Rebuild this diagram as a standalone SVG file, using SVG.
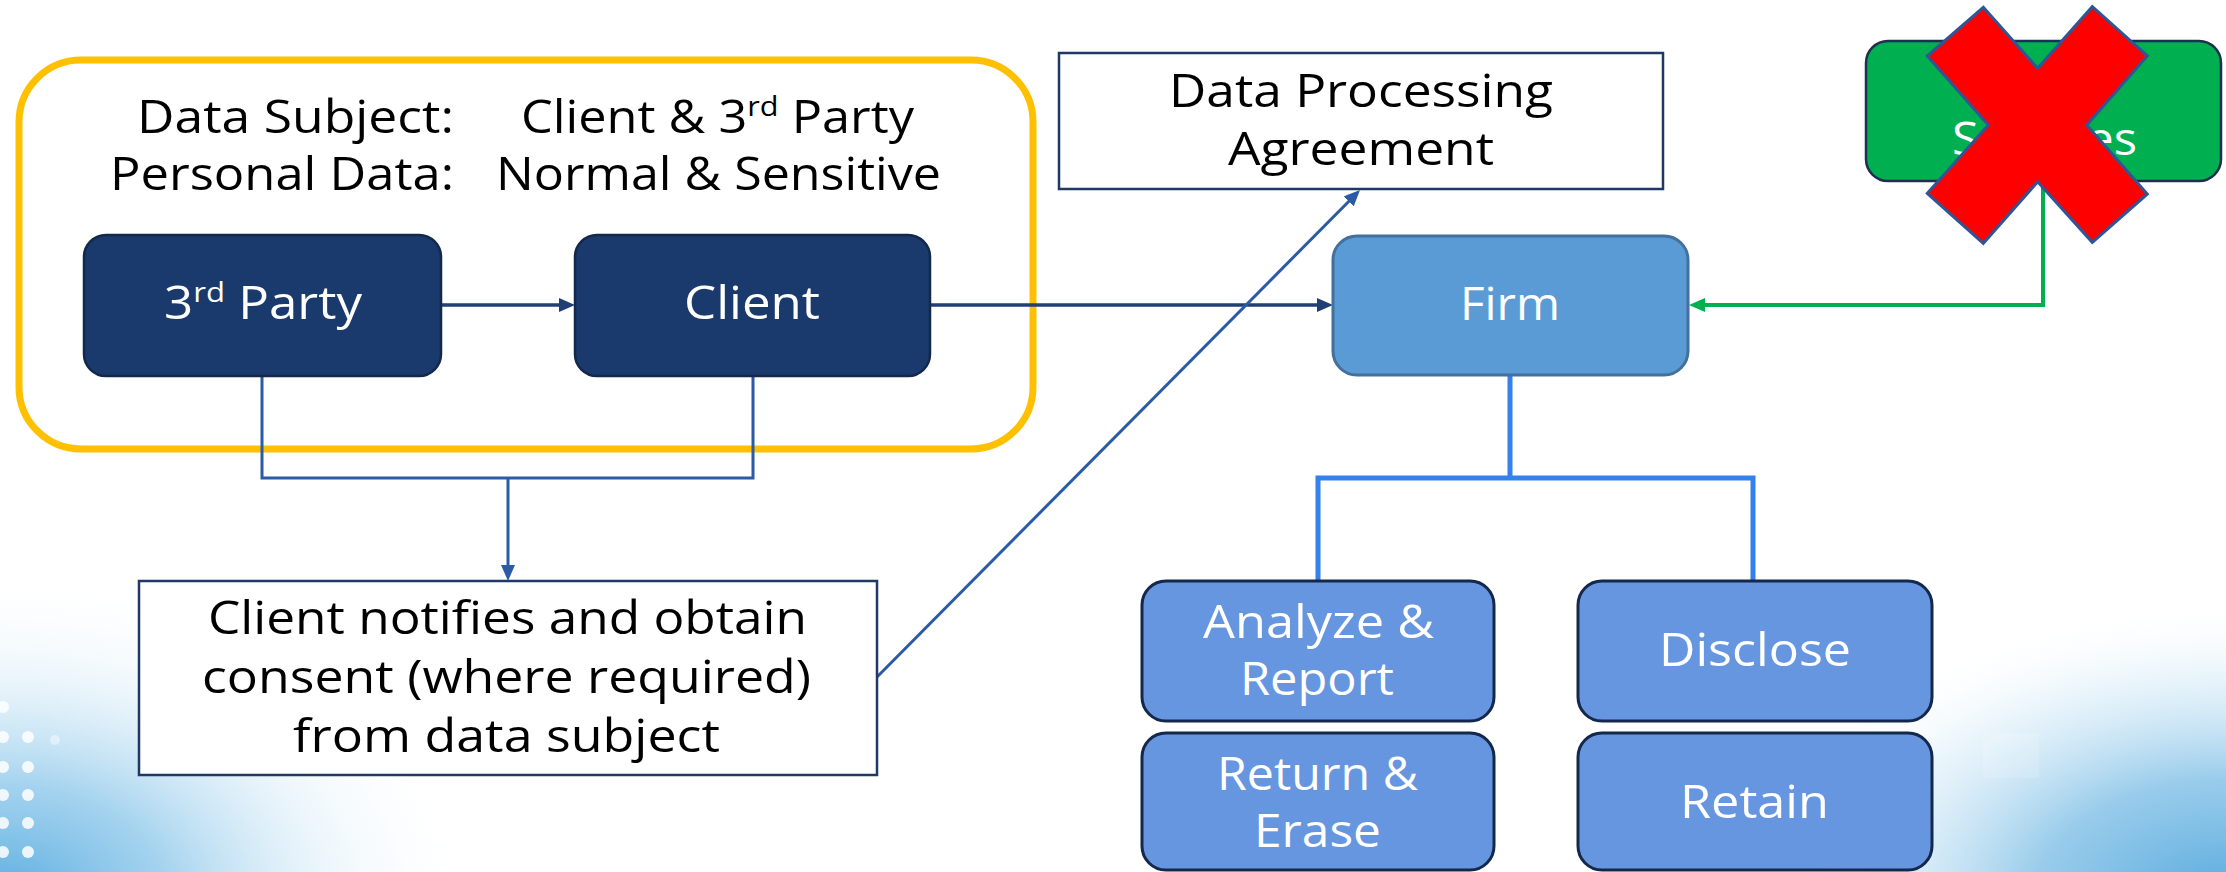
<svg xmlns="http://www.w3.org/2000/svg" width="2226" height="872" viewBox="0 0 2226 872">
<style>
.t{font-family:"Open Sans","Liberation Sans",sans-serif;font-size:46px;fill:#000}
.w{font-family:"Open Sans","Liberation Sans",sans-serif;font-size:46px;fill:#fff}
.navy{fill:#1A3A6D;stroke:#13284A;stroke-width:2.5}
.child{fill:#6696E0;stroke:#14284B;stroke-width:3}
.plain{fill:#fff;stroke:#1F3864;stroke-width:2.5}
.c-dark{fill:none;stroke:#1F3F75;stroke-width:3.5}
.c-mid{fill:none;stroke:#2B5BA6;stroke-width:3}
.c-bright{fill:none;stroke:#3380EE;stroke-width:5}
.c-green{fill:none;stroke:#00B050;stroke-width:4}
</style>
<defs>
<marker id="ah-dark" markerUnits="userSpaceOnUse" markerWidth="16" markerHeight="14" refX="8" refY="7" orient="auto"><path d="M0,0 L16,7 L0,14 z" fill="#1F3F75"/></marker>
<marker id="ah-mid" markerUnits="userSpaceOnUse" markerWidth="16" markerHeight="14" refX="8" refY="7" orient="auto"><path d="M0,0 L16,7 L0,14 z" fill="#2B5BA6"/></marker>
<marker id="ah-green" markerUnits="userSpaceOnUse" markerWidth="16" markerHeight="14" refX="8" refY="7" orient="auto"><path d="M0,0 L16,7 L0,14 z" fill="#00B050"/></marker>
<radialGradient id="bgL" gradientUnits="userSpaceOnUse" cx="0" cy="900" r="330" gradientTransform="translate(0,900) scale(1.45,1) translate(0,-900)">
<stop offset="0" stop-color="#4FA8DE" stop-opacity="0.95"/>
<stop offset="0.35" stop-color="#86C4E9" stop-opacity="0.75"/>
<stop offset="0.7" stop-color="#CFE8F6" stop-opacity="0.35"/>
<stop offset="1" stop-color="#FFFFFF" stop-opacity="0"/>
</radialGradient>
<radialGradient id="bgR" gradientUnits="userSpaceOnUse" cx="2226" cy="900" r="300" gradientTransform="translate(2226,900) scale(1.6,1) translate(-2226,-900)">
<stop offset="0" stop-color="#4FA6DC" stop-opacity="0.95"/>
<stop offset="0.4" stop-color="#7FBFE6" stop-opacity="0.8"/>
<stop offset="0.75" stop-color="#C8E5F5" stop-opacity="0.4"/>
<stop offset="1" stop-color="#FFFFFF" stop-opacity="0"/>
</radialGradient>
</defs>

<g id="background">
<rect x="0" y="0" width="2226" height="872" fill="#fff"/>
<rect x="0" y="500" width="560" height="372" fill="url(#bgL)"/>
<rect x="1650" y="560" width="576" height="312" fill="url(#bgR)"/>
<g fill="#fff" opacity="0.85">
<circle cx="3" cy="707" r="6"/><circle cx="3" cy="737" r="6"/><circle cx="3" cy="767" r="6"/><circle cx="3" cy="795" r="6"/><circle cx="3" cy="823" r="6"/><circle cx="3" cy="852" r="6"/>
<circle cx="28" cy="737" r="6"/><circle cx="28" cy="767" r="6"/><circle cx="28" cy="795" r="6"/><circle cx="28" cy="823" r="6"/><circle cx="28" cy="852" r="6"/>
<circle cx="55" cy="740" r="5" opacity="0.5"/>
</g>
<rect x="1983" y="733" width="56" height="45" fill="#fff" opacity="0.15"/>
</g>

<g id="data-subject-group">
<rect x="19" y="60" width="1014" height="389" rx="62" fill="none" stroke="#FFC000" stroke-width="7"/>
<text class="t" x="137" y="133" textLength="317" lengthAdjust="spacingAndGlyphs">Data Subject:</text>
<text class="t" x="521" y="133" textLength="393" lengthAdjust="spacingAndGlyphs">Client &amp; 3<tspan font-size="28" dy="-17">rd</tspan><tspan dy="17"> Party</tspan></text>
<text class="t" x="110" y="190" textLength="344" lengthAdjust="spacingAndGlyphs">Personal Data:</text>
<text class="t" x="496" y="190" textLength="445" lengthAdjust="spacingAndGlyphs">Normal &amp; Sensitive</text>
</g>

<g id="connectors">
<path class="c-dark" d="M441,305 H567" marker-end="url(#ah-dark)"/>
<path class="c-dark" d="M930,305 H1325" marker-end="url(#ah-dark)"/>
<path class="c-mid" d="M262,376 V478 H753 V376"/>
<path class="c-mid" d="M508,478 V573" marker-end="url(#ah-mid)"/>
<path class="c-mid" d="M877,677 L1354.4,195.7" marker-end="url(#ah-mid)"/>
<path class="c-bright" d="M1510,375 V478"/>
<path class="c-bright" d="M1318,581 V478 H1753 V581"/>
<path class="c-green" d="M2043,181 V305 H1697" marker-end="url(#ah-green)"/>
</g>

<g id="third-party">
<rect class="navy" x="84" y="235" width="357" height="141" rx="22"/>
<text class="w" x="164" y="319" textLength="198" lengthAdjust="spacingAndGlyphs">3<tspan font-size="28" dy="-17">rd</tspan><tspan dy="17"> Party</tspan></text>
</g>

<g id="client">
<rect class="navy" x="575" y="235" width="355" height="141" rx="22"/>
<text class="w" x="684" y="319" textLength="136" lengthAdjust="spacingAndGlyphs">Client</text>
</g>

<g id="dpa">
<rect class="plain" x="1059" y="53" width="604" height="136"/>
<text class="t" x="1169" y="107" textLength="384" lengthAdjust="spacingAndGlyphs">Data Processing</text>
<text class="t" x="1228" y="165" textLength="266" lengthAdjust="spacingAndGlyphs">Agreement</text>
</g>

<g id="firm">
<rect x="1333" y="236" width="355" height="139" rx="24" fill="#5B9BD5" stroke="#41719C" stroke-width="3"/>
<text class="w" x="1460" y="320" textLength="100" lengthAdjust="spacingAndGlyphs">Firm</text>
</g>

<g id="consent">
<rect class="plain" x="139" y="581" width="738" height="194"/>
<text class="t" x="208" y="634" textLength="599" lengthAdjust="spacingAndGlyphs">Client notifies and obtain</text>
<text class="t" x="202" y="693" textLength="609" lengthAdjust="spacingAndGlyphs">consent (where required)</text>
<text class="t" x="293" y="752" textLength="427" lengthAdjust="spacingAndGlyphs">from data subject</text>
</g>

<g id="analyze-report">
<rect class="child" x="1142" y="581" width="352" height="140" rx="24"/>
<text class="w" x="1203" y="638" textLength="231" lengthAdjust="spacingAndGlyphs">Analyze &amp;</text>
<text class="w" x="1240" y="695" textLength="154" lengthAdjust="spacingAndGlyphs">Report</text>
</g>

<g id="disclose">
<rect class="child" x="1578" y="581" width="354" height="140" rx="24"/>
<text class="w" x="1659" y="666" textLength="192" lengthAdjust="spacingAndGlyphs">Disclose</text>
</g>

<g id="return-erase">
<rect class="child" x="1142" y="733" width="352" height="137" rx="24"/>
<text class="w" x="1217" y="790" textLength="201" lengthAdjust="spacingAndGlyphs">Return &amp;</text>
<text class="w" x="1254" y="847" textLength="127" lengthAdjust="spacingAndGlyphs">Erase</text>
</g>

<g id="retain">
<rect class="child" x="1578" y="733" width="354" height="137" rx="24"/>
<text class="w" x="1680" y="818" textLength="149" lengthAdjust="spacingAndGlyphs">Retain</text>
</g>

<g id="services">
<rect x="1866" y="41" width="355" height="140" rx="22" fill="#00B050" stroke="#1F2F50" stroke-width="2.5"/>
<text class="w" x="1952" y="155" textLength="185" lengthAdjust="spacingAndGlyphs">Services</text>
</g>

<g id="cross">
<polygon points="1983.3,7.3 2037.7,68.3 2092.3,6.7 2147.3,56 2086.7,125 2147.3,194 2092.3,242.3 2037.7,181.7 1983.3,243.3 1927.3,193.3 1988.3,125 1927.3,56" fill="#FF0000" stroke="#2F5597" stroke-width="3" stroke-linejoin="miter"/>
</g>
</svg>
